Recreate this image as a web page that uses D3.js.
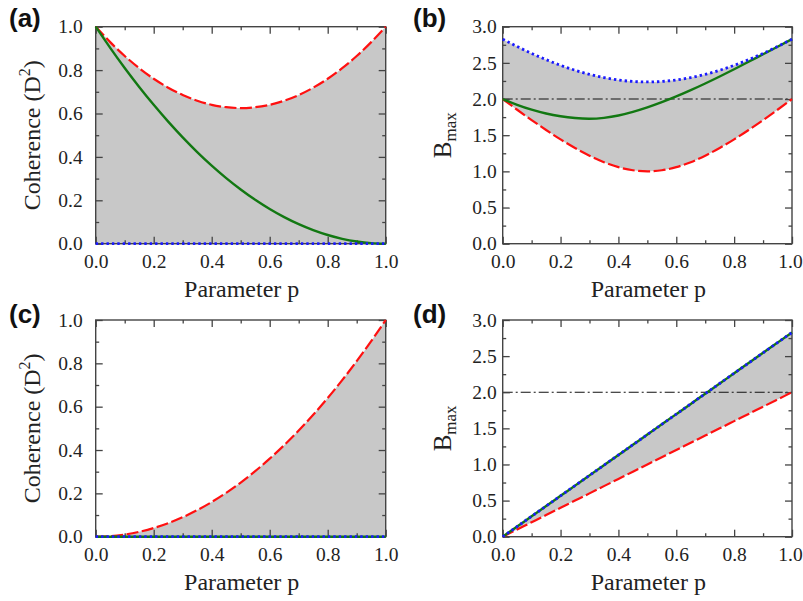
<!doctype html>
<html lang="en">
  <head>
    <meta charset="UTF-8" />
    <title>Coherence and Bmax vs p</title>
    <style>
      body { margin: 0; background: #fff; }
      svg text { font-family: "Liberation Serif", "Times New Roman", serif; fill: #222; }
      .panel-label { font-family: "Liberation Sans", Arial, sans-serif; font-weight: bold; fill: #111; }
    </style>
  </head>
  <body>
    <svg id="chart"></svg>
    <script src="https://d3js.org/d3.v7.min.js"></script>
    <script>
      /* global d3 */

      // parameter grid (x) shared by every curve
      const pValues = [0, 0.05, 0.1, 0.15, 0.2, 0.25, 0.3, 0.35, 0.4, 0.45, 0.5,
        0.55, 0.6, 0.65, 0.7, 0.75, 0.8, 0.85, 0.9, 0.95, 1];

      // (a) coherence
      const cohRedA = [1, 0.929, 0.865, 0.809, 0.76, 0.719, 0.685, 0.659, 0.64, 0.629, 0.625,
        0.629, 0.64, 0.659, 0.685, 0.719, 0.76, 0.809, 0.865, 0.929, 1];
      const cohGreenA = [1, 0.9025, 0.81, 0.7225, 0.64, 0.5625, 0.49, 0.4225, 0.36, 0.3025, 0.25,
        0.2025, 0.16, 0.1225, 0.09, 0.0625, 0.04, 0.0225, 0.01, 0.0025, 0];
      const cohBlueA = [0, 0, 0, 0, 0, 0, 0, 0, 0, 0, 0, 0, 0, 0, 0, 0, 0, 0, 0, 0, 0];

      // (b) Bmax
      const bmaxRedB = [2, 1.852, 1.709, 1.572, 1.442, 1.323, 1.217, 1.127, 1.058, 1.015, 1,
        1.015, 1.058, 1.127, 1.217, 1.323, 1.442, 1.572, 1.709, 1.852, 2];
      const bmaxGreenB = [2, 1.92, 1.853, 1.8, 1.762, 1.737, 1.727, 1.74, 1.772, 1.822, 1.884,
        1.956, 2.036, 2.123, 2.215, 2.312, 2.412, 2.515, 2.619, 2.723, 2.828];
      const bmaxBlueB = [2.828, 2.726, 2.631, 2.544, 2.466, 2.398, 2.341, 2.296, 2.263, 2.243, 2.236,
        2.243, 2.263, 2.296, 2.341, 2.398, 2.466, 2.544, 2.631, 2.726, 2.828];

      // (c) coherence
      const cohRedC = [0, 0.0025, 0.01, 0.0225, 0.04, 0.0625, 0.09, 0.1225, 0.16, 0.2025, 0.25,
        0.3025, 0.36, 0.4225, 0.49, 0.5625, 0.64, 0.7225, 0.81, 0.9025, 1];
      const cohGreenC = [0, 0, 0, 0, 0, 0, 0, 0, 0, 0, 0, 0, 0, 0, 0, 0, 0, 0, 0, 0, 0];
      const cohBlueC = [0, 0, 0, 0, 0, 0, 0, 0, 0, 0, 0, 0, 0, 0, 0, 0, 0, 0, 0, 0, 0];

      // (d) Bmax
      const bmaxRedD = [0, 0.1, 0.2, 0.3, 0.4, 0.5, 0.6, 0.7, 0.8, 0.9, 1,
        1.1, 1.2, 1.3, 1.4, 1.5, 1.6, 1.7, 1.8, 1.9, 2];
      const bmaxGreenD = [0, 0.141, 0.283, 0.424, 0.566, 0.707, 0.849, 0.99, 1.131, 1.273, 1.414,
        1.556, 1.697, 1.838, 1.98, 2.121, 2.263, 2.404, 2.546, 2.687, 2.828];
      const bmaxBlueD = [0, 0.141, 0.283, 0.424, 0.566, 0.707, 0.849, 0.99, 1.131, 1.273, 1.414,
        1.556, 1.697, 1.838, 1.98, 2.121, 2.263, 2.404, 2.546, 2.687, 2.828];

      const classicalBound = 2;

      // ticks
      const xMajor = [0, 0.2, 0.4, 0.6, 0.8, 1];
      const xMinor = [0.1, 0.3, 0.5, 0.7, 0.9];
      const cohMajor = [0, 0.2, 0.4, 0.6, 0.8, 1];
      const cohMinor = [0.1, 0.3, 0.5, 0.7, 0.9];
      const bmaxMajor = [0, 0.5, 1, 1.5, 2, 2.5, 3];
      const bmaxMinor = [0.25, 0.75, 1.25, 1.75, 2.25, 2.75];

      const width = 803,
        height = 601;
      const RED = "#ff1010",
        GREEN = "#127812",
        BLUE = "#1a1aff",
        FILL = "#c8c8c8",
        FRAME = "#444";

      const svg = d3.select("#chart").attr("width", width).attr("height", height);

      const panels = [
        { label: "(a)", lx: 9, ly: 27, left: 95.7, right: 385.7, top: 26.7, bottom: 243.7,
          yMax: 1, yMajor: cohMajor, yMinor: cohMinor, yPad: 13, kind: "coh",
          red: cohRedA, green: cohGreenA, blue: cohBlueA, lower: cohBlueA, upper: cohRedA },
        { label: "(b)", lx: 413, ly: 27, left: 502.7, right: 792, top: 26.7, bottom: 243.7,
          yMax: 3, yMajor: bmaxMajor, yMinor: bmaxMinor, yPad: 6, kind: "bmax", bound: true,
          red: bmaxRedB, green: bmaxGreenB, blue: bmaxBlueB, lower: bmaxRedB, upper: bmaxBlueB },
        { label: "(c)", lx: 9, ly: 323, left: 95.7, right: 385.7, top: 320, bottom: 536.7,
          yMax: 1, yMajor: cohMajor, yMinor: cohMinor, yPad: 13, kind: "coh",
          red: cohRedC, green: cohGreenC, blue: cohBlueC, lower: cohBlueC, upper: cohRedC },
        { label: "(d)", lx: 413, ly: 323, left: 502.7, right: 792, top: 320, bottom: 536.7,
          yMax: 3, yMajor: bmaxMajor, yMinor: bmaxMinor, yPad: 6, kind: "bmax", bound: true,
          red: bmaxRedD, green: bmaxGreenD, blue: bmaxBlueD, lower: bmaxRedD, upper: bmaxBlueD },
      ];

      function styleAxis(sel) {
        sel.select(".domain").remove();
        sel.selectAll(".tick line").attr("stroke", FRAME).attr("stroke-width", 1.3);
        sel.selectAll(".tick text").style("font-size", "19.5px").attr("fill", "#222");
      }

      function drawPanel(cfg) {
        const g = svg.append("g");
        const x = d3.scaleLinear().domain([0, 1]).range([cfg.left, cfg.right]);
        const y = d3.scaleLinear().domain([0, cfg.yMax]).range([cfg.bottom, cfg.top]);

        const area = d3
          .area()
          .x((d, i) => x(pValues[i]))
          .y0((d, i) => y(cfg.lower[i]))
          .y1((d, i) => y(cfg.upper[i]))
          .curve(d3.curveNatural);
        g.append("path").datum(pValues).attr("d", area).attr("fill", FILL);

        if (cfg.bound) {
          g.append("line")
            .attr("x1", x(0)).attr("x2", x(1))
            .attr("y1", y(classicalBound)).attr("y2", y(classicalBound))
            .attr("stroke", "#111")
            .attr("stroke-width", 1.1)
            .attr("stroke-dasharray", "10,3,2,3");
        }

        // axes: major + minor, ticks pointing inward on all four sides
        const fmt = d3.format(".1f");
        const bottom = g.append("g").attr("transform", `translate(0,${cfg.bottom})`);
        bottom.call(d3.axisBottom(x).tickValues(xMajor).tickSizeInner(-7).tickSizeOuter(0).tickPadding(10).tickFormat(fmt));
        styleAxis(bottom);
        // the last label sits at the page edge; nudge it inside
        if (cfg.right > 700) {
          bottom.selectAll(".tick text").filter((d) => d === 1).attr("dx", -2);
        }
        const bottomMinor = g.append("g").attr("transform", `translate(0,${cfg.bottom})`);
        bottomMinor.call(d3.axisBottom(x).tickValues(xMinor).tickSizeInner(-3.5).tickSizeOuter(0).tickFormat(""));
        styleAxis(bottomMinor);

        const top = g.append("g").attr("transform", `translate(0,${cfg.top})`);
        top.call(d3.axisTop(x).tickValues(xMajor).tickSizeInner(-7).tickSizeOuter(0).tickFormat(""));
        styleAxis(top);
        const topMinor = g.append("g").attr("transform", `translate(0,${cfg.top})`);
        topMinor.call(d3.axisTop(x).tickValues(xMinor).tickSizeInner(-3.5).tickSizeOuter(0).tickFormat(""));
        styleAxis(topMinor);

        const leftAx = g.append("g").attr("transform", `translate(${cfg.left},0)`);
        leftAx.call(d3.axisLeft(y).tickValues(cfg.yMajor).tickSizeInner(-7).tickSizeOuter(0).tickPadding(cfg.yPad).tickFormat(fmt));
        styleAxis(leftAx);
        const leftMinor = g.append("g").attr("transform", `translate(${cfg.left},0)`);
        leftMinor.call(d3.axisLeft(y).tickValues(cfg.yMinor).tickSizeInner(-3.5).tickSizeOuter(0).tickFormat(""));
        styleAxis(leftMinor);

        const rightAx = g.append("g").attr("transform", `translate(${cfg.right},0)`);
        rightAx.call(d3.axisRight(y).tickValues(cfg.yMajor).tickSizeInner(-7).tickSizeOuter(0).tickFormat(""));
        styleAxis(rightAx);
        const rightMinor = g.append("g").attr("transform", `translate(${cfg.right},0)`);
        rightMinor.call(d3.axisRight(y).tickValues(cfg.yMinor).tickSizeInner(-3.5).tickSizeOuter(0).tickFormat(""));
        styleAxis(rightMinor);

        g.append("rect")
          .attr("x", cfg.left).attr("y", cfg.top)
          .attr("width", cfg.right - cfg.left).attr("height", cfg.bottom - cfg.top)
          .attr("fill", "none").attr("stroke", FRAME).attr("stroke-width", 1.4);

        // curves
        const line = (vals) =>
          d3.line()
            .x((d, i) => x(pValues[i]))
            .y((d, i) => y(vals[i]))
            .curve(d3.curveNatural)(pValues);

        g.append("path").attr("d", line(cfg.red)).attr("fill", "none")
          .attr("stroke", RED).attr("stroke-width", 2.2).attr("stroke-dasharray", "12,3.5");
        g.append("path").attr("d", line(cfg.green)).attr("fill", "none")
          .attr("stroke", GREEN).attr("stroke-width", 2.4);
        g.append("path").attr("d", line(cfg.blue)).attr("fill", "none")
          .attr("stroke", BLUE).attr("stroke-width", 2.8).attr("stroke-dasharray", "2.4,3");

        // titles
        const midX = (cfg.left + cfg.right) / 2;
        const midY = (cfg.top + cfg.bottom) / 2;
        g.append("text")
          .attr("x", midX + 1).attr("y", cfg.bottom + 53)
          .attr("text-anchor", "middle")
          .style("font-size", "24px")
          .text("Parameter p");

        const yt = g.append("text")
          .attr("transform", `translate(${cfg.kind === "coh" ? 40 : cfg.left - 52},${midY}) rotate(-90)`)
          .attr("text-anchor", "middle")
          .style("font-size", cfg.kind === "coh" ? "24px" : "25px");
        if (cfg.kind === "coh") {
          yt.append("tspan").text("Coherence (D");
          yt.append("tspan").attr("dy", -10).style("font-size", "16px").text("2");
          yt.append("tspan").attr("dy", 10).text(")");
        } else {
          yt.append("tspan").text("B");
          yt.append("tspan").attr("dy", 5).style("font-size", "17px").text("max");
        }

        g.append("text")
          .attr("class", "panel-label")
          .attr("x", cfg.lx).attr("y", cfg.ly)
          .style("font-size", "26px")
          .text(cfg.label);
      }

      panels.forEach(drawPanel);
    </script>
  </body>
</html>
